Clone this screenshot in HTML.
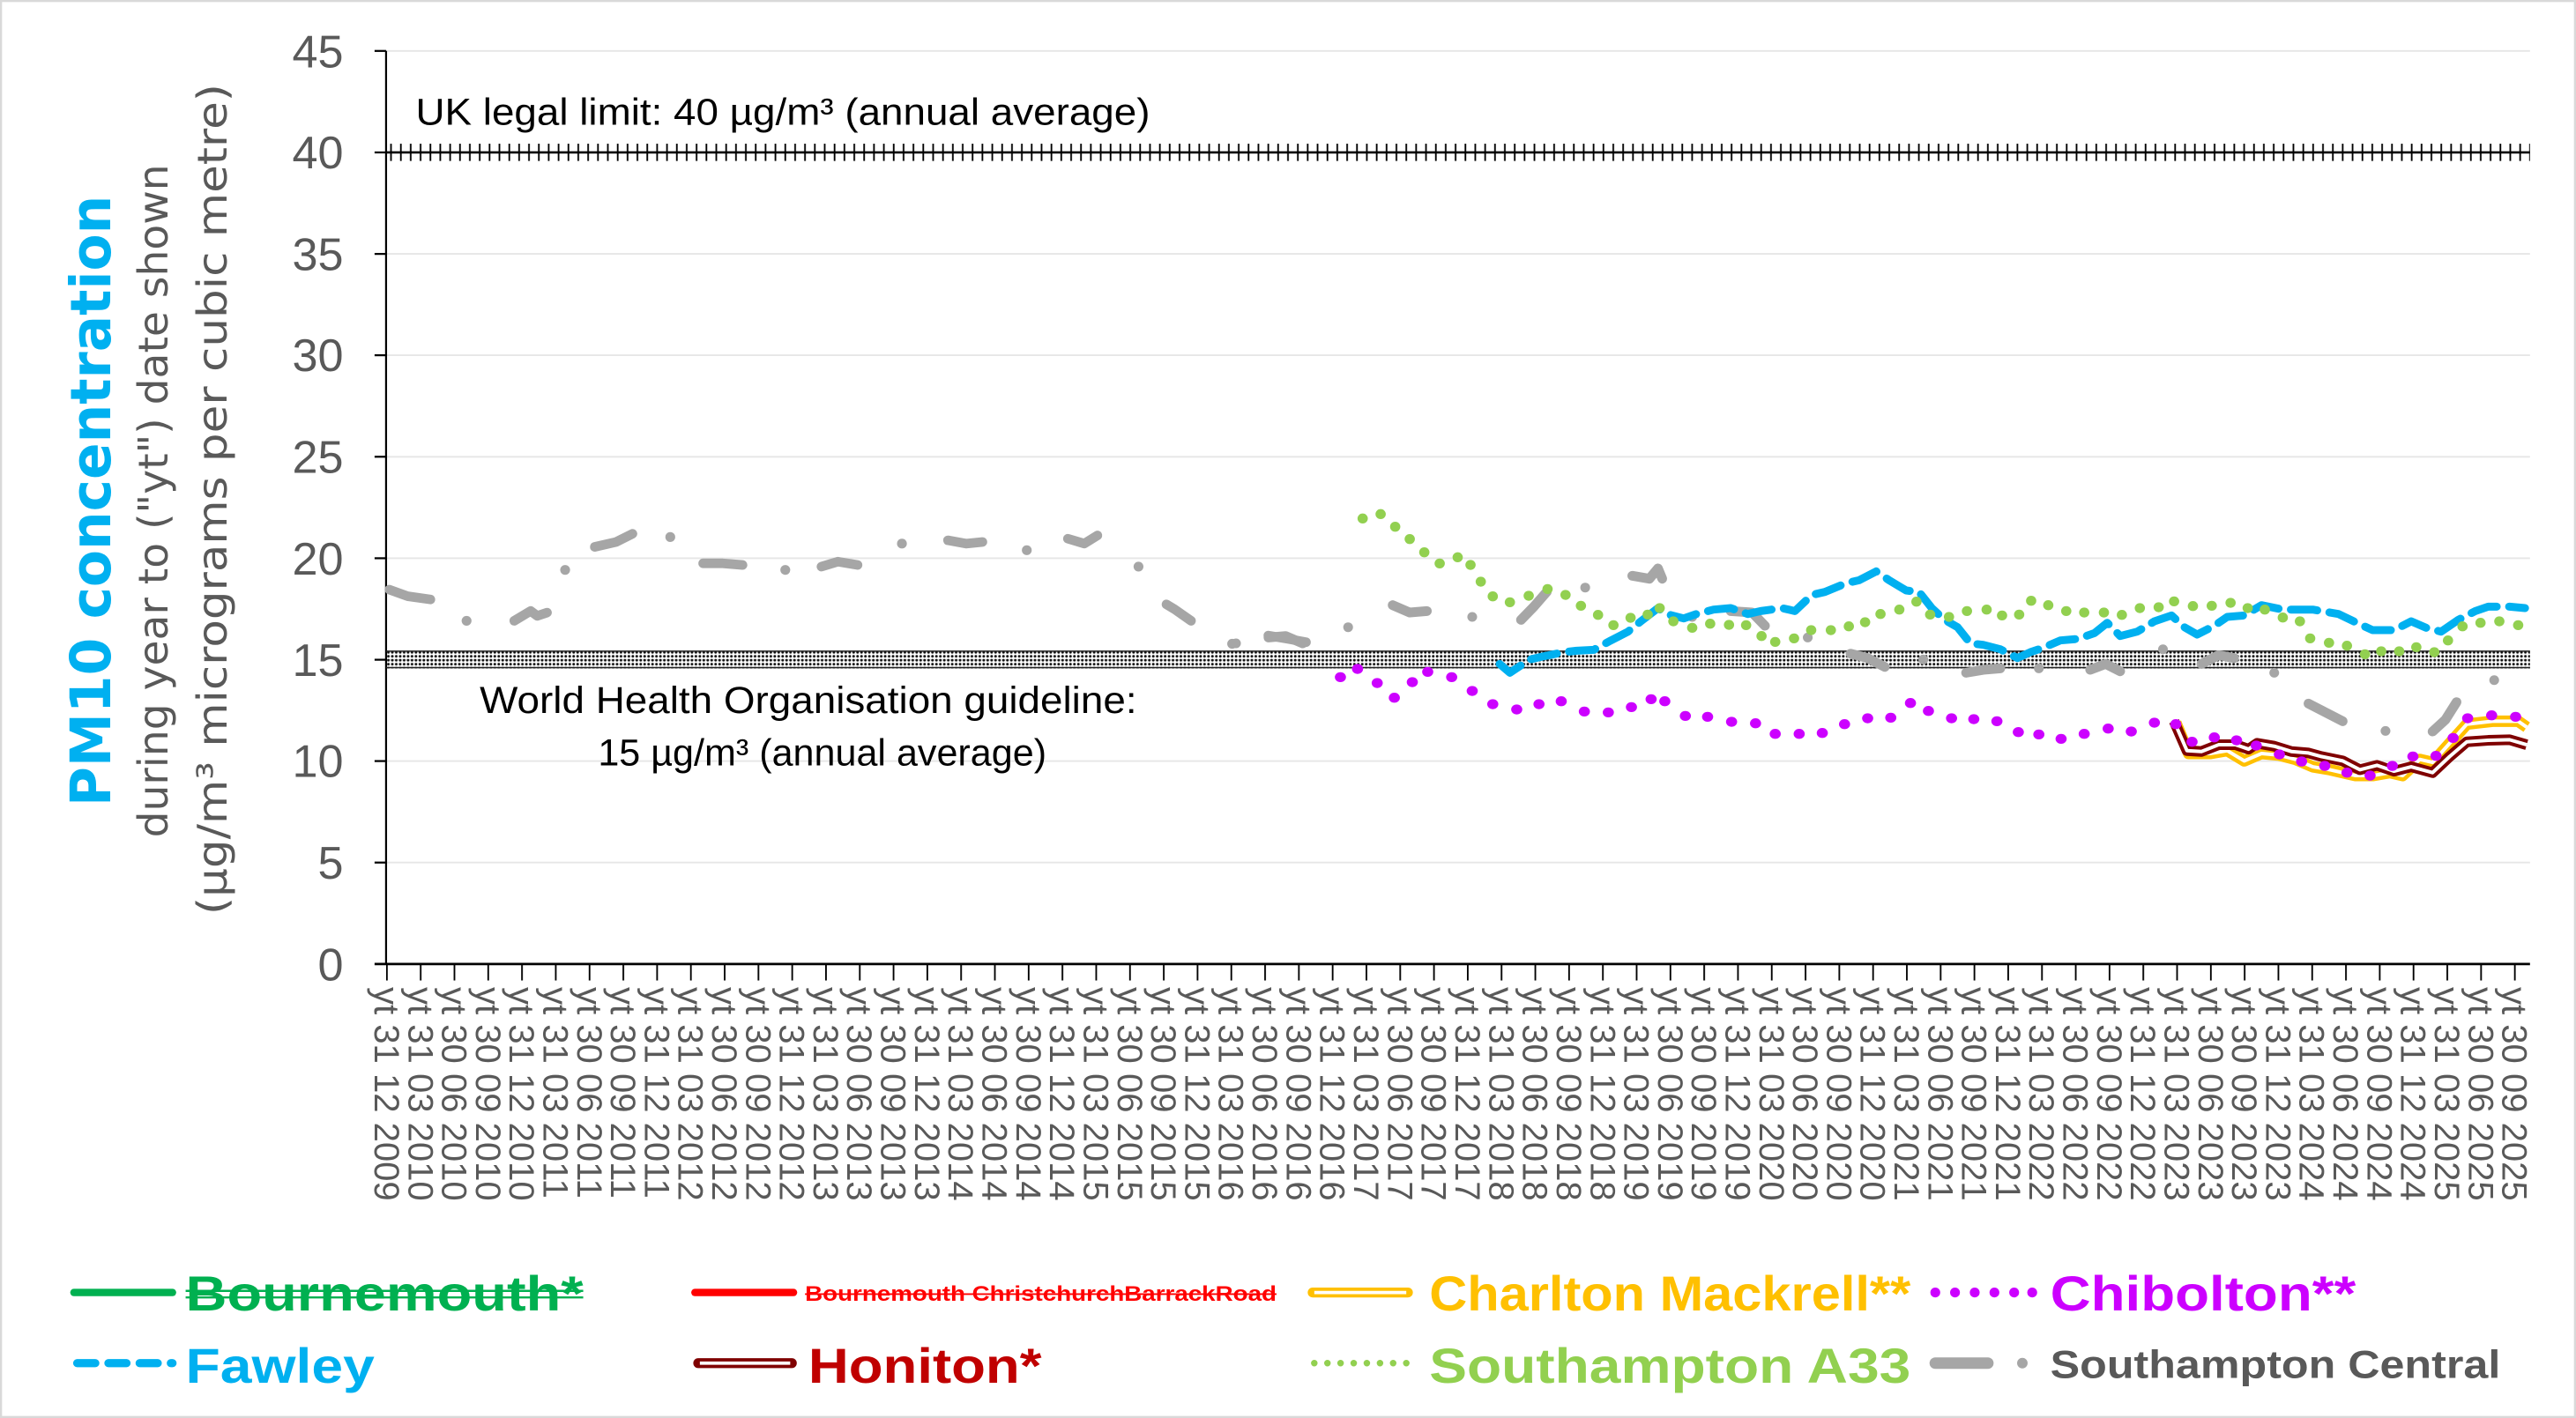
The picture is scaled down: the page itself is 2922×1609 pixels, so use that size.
<!DOCTYPE html>
<html><head><meta charset="utf-8"><style>html,body{margin:0;padding:0;background:#fff}svg{display:block}</style></head>
<body>
<svg xmlns="http://www.w3.org/2000/svg" width="2922" height="1609" viewBox="0 0 1568 863.4">
<defs>
<pattern id="tk40" x="235" y="87" width="6" height="11" patternUnits="userSpaceOnUse"><line x1="3" y1="0" x2="3" y2="11" stroke="#000" stroke-width="1"/></pattern>
<pattern id="dots15" x="0" y="0" width="2.4" height="2.4" patternUnits="userSpaceOnUse"><circle cx="1.2" cy="1.2" r="0.8" fill="#111"/></pattern>
<pattern id="xt" x="235" y="587" width="20.56" height="10" patternUnits="userSpaceOnUse"><line x1="0.5" y1="0" x2="0.5" y2="10" stroke="#000" stroke-width="1"/></pattern>
</defs>
<rect x="0.5" y="0.5" width="1567" height="862.4" fill="#fff" stroke="#D9D9D9" stroke-width="1.5"/>
<g stroke="#E6E6E6" stroke-width="1">
<line x1="235" y1="31" x2="1540" y2="31"/><line x1="235" y1="92.8" x2="1540" y2="92.8"/><line x1="235" y1="154.6" x2="1540" y2="154.6"/><line x1="235" y1="216.3" x2="1540" y2="216.3"/><line x1="235" y1="278.1" x2="1540" y2="278.1"/><line x1="235" y1="339.9" x2="1540" y2="339.9"/><line x1="235" y1="401.7" x2="1540" y2="401.7"/><line x1="235" y1="463.4" x2="1540" y2="463.4"/><line x1="235" y1="525.2" x2="1540" y2="525.2"/>
</g>
<line x1="235" y1="31" x2="235" y2="587" stroke="#000" stroke-width="1.2"/>
<g stroke="#000" stroke-width="1.2"><line x1="228" y1="31" x2="235" y2="31"/><line x1="228" y1="92.8" x2="235" y2="92.8"/><line x1="228" y1="154.6" x2="235" y2="154.6"/><line x1="228" y1="216.3" x2="235" y2="216.3"/><line x1="228" y1="278.1" x2="235" y2="278.1"/><line x1="228" y1="339.9" x2="235" y2="339.9"/><line x1="228" y1="401.7" x2="235" y2="401.7"/><line x1="228" y1="463.4" x2="235" y2="463.4"/><line x1="228" y1="525.2" x2="235" y2="525.2"/></g>
<line x1="228" y1="587" x2="1540" y2="587" stroke="#000" stroke-width="1.5"/>
<rect x="235" y="587" width="1306" height="10" fill="url(#xt)"/>
<g font-family="Liberation Sans, sans-serif" font-size="28" fill="#595959" text-anchor="end">
<text x="209" y="41">45</text><text x="209" y="102.5">40</text><text x="209" y="164.5">35</text><text x="209" y="226">30</text><text x="209" y="288">25</text><text x="209" y="350">20</text><text x="209" y="411.5">15</text><text x="209" y="473">10</text><text x="209" y="535">5</text><text x="209" y="597">0</text>
</g>
<text transform="translate(67,305) rotate(-90)" font-family="DejaVu Sans, sans-serif" font-weight="bold" font-size="34" fill="#00B0F0" text-anchor="middle" textLength="372" lengthAdjust="spacingAndGlyphs">PM10 concentration</text>
<text transform="translate(102,305) rotate(-90)" font-family="DejaVu Sans, sans-serif" font-size="25" fill="#595959" text-anchor="middle" textLength="410" lengthAdjust="spacingAndGlyphs">during year to ("yt") date shown</text>
<text transform="translate(138,304) rotate(-90)" font-family="DejaVu Sans, sans-serif" font-size="25" fill="#595959" text-anchor="middle" textLength="506" lengthAdjust="spacingAndGlyphs">(µg/m³ micrograms per cubic metre)</text>
<rect x="235" y="87.5" width="1305" height="10.5" fill="url(#tk40)"/>
<line x1="235" y1="92.8" x2="1540" y2="92.8" stroke="#000" stroke-width="1.4"/>
<rect x="235" y="396" width="1305" height="11" fill="url(#dots15)"/>
<line x1="235" y1="396.5" x2="1540" y2="396.5" stroke="#222" stroke-width="0.8"/>
<line x1="235" y1="406.5" x2="1540" y2="406.5" stroke="#222" stroke-width="0.8"/>
<g font-family="Liberation Sans, sans-serif" font-size="23" fill="#000">
<text x="253" y="76" textLength="447" lengthAdjust="spacingAndGlyphs">UK legal limit: 40 µg/m³ (annual average)</text>
<text x="292" y="434" textLength="400" lengthAdjust="spacingAndGlyphs">World Health Organisation guideline:</text>
<text x="364" y="466" textLength="273" lengthAdjust="spacingAndGlyphs">15 µg/m³ (annual average)</text>
</g>
<g stroke="#A6A6A6" stroke-width="5.8" stroke-linecap="round" stroke-linejoin="round" fill="none">
<polyline points="237,359 248,363 262,365"/>
<polyline points="313,378 323,372 327,375 333,373"/>
<polyline points="362,333 375,330 385,325"/>
<polyline points="428,343 440,343 452,344"/>
<polyline points="500,345 510,342 516,343 522,344"/>
<polyline points="577,329 588,331 598,330"/>
<polyline points="650,328 660,331 668,326"/>
<polyline points="710,368 715,371 725,378"/>
<polyline points="772,387 784,389 795,391"/>
</g>
<g fill="#A6A6A6"><circle cx="284" cy="378" r="3"/><circle cx="344" cy="347" r="3"/><circle cx="408" cy="327" r="3"/><circle cx="478" cy="347" r="3"/><circle cx="549" cy="331" r="3"/><circle cx="625" cy="335" r="3"/><circle cx="693" cy="345" r="3"/><circle cx="750" cy="392" r="3"/></g>
<g transform="matrix(0.521 0 0 0.1789 751.3 268.3)">
<g stroke="#A6A6A6" stroke-width="11" stroke-linecap="round" stroke-linejoin="round" fill="none">
<polyline vector-effect="non-scaling-stroke" points="40,670 60,665 80,690"/>
<polyline vector-effect="non-scaling-stroke" points="185,560 205,585 225,580"/>
<polyline vector-effect="non-scaling-stroke" points="335,610 350,565 365,515"/>
<polyline vector-effect="non-scaling-stroke" points="465,460 485,470 495,435 500,470"/>
<polyline vector-effect="non-scaling-stroke" points="580,580 605,585 620,630"/>
<polyline vector-effect="non-scaling-stroke" points="720,725 740,740 760,770"/>
<polyline vector-effect="non-scaling-stroke" points="855,790 875,780 895,775"/>
<polyline vector-effect="non-scaling-stroke" points="1000,780 1018,760 1035,785"/>
<polyline vector-effect="non-scaling-stroke" points="1130,760 1150,730 1168,740"/>
<polyline vector-effect="non-scaling-stroke" points="1255,895 1275,925 1295,955"/>
<polyline vector-effect="non-scaling-stroke" points="1400,990 1415,950 1428,890"/>
</g>
<g fill="#A6A6A6"><ellipse cx="2" cy="690" rx="5.7" ry="16.5"/><ellipse cx="133" cy="635" rx="5.7" ry="16.5"/><ellipse cx="278" cy="600" rx="5.7" ry="16.5"/><ellipse cx="410" cy="500" rx="5.7" ry="16.5"/><ellipse cx="535" cy="600" rx="5.7" ry="16.5"/><ellipse cx="670" cy="670" rx="5.7" ry="16.5"/><ellipse cx="805" cy="745" rx="5.7" ry="16.5"/><ellipse cx="940" cy="775" rx="5.7" ry="16.5"/><ellipse cx="1085" cy="710" rx="5.7" ry="16.5"/><ellipse cx="1215" cy="790" rx="5.7" ry="16.5"/><ellipse cx="1345" cy="988" rx="5.7" ry="16.5"/><ellipse cx="1472" cy="815" rx="5.7" ry="16.5"/></g>
<polyline vector-effect="non-scaling-stroke" fill="none" stroke="#00B0F0" stroke-width="9" stroke-dasharray="30 14" stroke-linecap="round" stroke-linejoin="round" points="310,760 322,790 345,745 360,735 385,720 400,715 420,712 440,680 460,650 475,615 495,570 505,590 525,605 540,590 560,575 580,570 600,590 615,580 640,570 655,580 675,525 690,515 715,485 730,475 750,445 765,475 785,510 800,515 815,570 830,610 845,635 860,690 875,695 895,710 915,740 930,720 945,705 965,680 985,675 1005,655 1020,620 1035,665 1055,650 1075,615 1095,595 1110,635 1125,660 1145,630 1160,600 1180,595 1200,560 1225,575 1260,575 1290,590 1315,625 1330,645 1355,645 1375,615 1395,640 1410,650 1430,610 1450,580 1465,565 1490,565 1508,570"/>
<g fill="#92D050">
<ellipse cx="150" cy="265" rx="6" ry="17"/><ellipse cx="171" cy="250" rx="6" ry="17"/><ellipse cx="188" cy="293" rx="6" ry="17"/><ellipse cx="205" cy="335" rx="6" ry="17"/><ellipse cx="222" cy="380" rx="6" ry="17"/><ellipse cx="240" cy="418" rx="6" ry="17"/><ellipse cx="261" cy="397" rx="6" ry="17"/><ellipse cx="276" cy="423" rx="6" ry="17"/><ellipse cx="288" cy="480" rx="6" ry="17"/><ellipse cx="302" cy="530" rx="6" ry="17"/><ellipse cx="322" cy="550" rx="6" ry="17"/><ellipse cx="344" cy="528" rx="6" ry="17"/><ellipse cx="366" cy="505" rx="6" ry="17"/><ellipse cx="387" cy="525" rx="6" ry="17"/><ellipse cx="405" cy="562" rx="6" ry="17"/><ellipse cx="425" cy="593" rx="6" ry="17"/><ellipse cx="443" cy="628" rx="6" ry="17"/><ellipse cx="463" cy="603" rx="6" ry="17"/><ellipse cx="483" cy="592" rx="6" ry="17"/><ellipse cx="497" cy="570" rx="6" ry="17"/><ellipse cx="513" cy="615" rx="6" ry="17"/><ellipse cx="535" cy="637" rx="6" ry="17"/><ellipse cx="556" cy="623" rx="6" ry="17"/><ellipse cx="578" cy="627" rx="6" ry="17"/><ellipse cx="598" cy="628" rx="6" ry="17"/><ellipse cx="616" cy="665" rx="6" ry="17"/><ellipse cx="632" cy="685" rx="6" ry="17"/><ellipse cx="654" cy="673" rx="6" ry="17"/><ellipse cx="674" cy="645" rx="6" ry="17"/><ellipse cx="697" cy="645" rx="6" ry="17"/><ellipse cx="718" cy="632" rx="6" ry="17"/><ellipse cx="737" cy="618" rx="6" ry="17"/><ellipse cx="755" cy="590" rx="6" ry="17"/><ellipse cx="777" cy="575" rx="6" ry="17"/><ellipse cx="797" cy="548" rx="6" ry="17"/><ellipse cx="813" cy="592" rx="6" ry="17"/><ellipse cx="835" cy="600" rx="6" ry="17"/><ellipse cx="856" cy="580" rx="6" ry="17"/><ellipse cx="879" cy="575" rx="6" ry="17"/><ellipse cx="897" cy="595" rx="6" ry="17"/><ellipse cx="917" cy="592" rx="6" ry="17"/><ellipse cx="931" cy="545" rx="6" ry="17"/><ellipse cx="951" cy="560" rx="6" ry="17"/><ellipse cx="972" cy="580" rx="6" ry="17"/><ellipse cx="993" cy="585" rx="6" ry="17"/><ellipse cx="1016" cy="585" rx="6" ry="17"/><ellipse cx="1037" cy="593" rx="6" ry="17"/><ellipse cx="1058" cy="570" rx="6" ry="17"/><ellipse cx="1080" cy="567" rx="6" ry="17"/><ellipse cx="1098" cy="547" rx="6" ry="17"/><ellipse cx="1120" cy="563" rx="6" ry="17"/><ellipse cx="1142" cy="562" rx="6" ry="17"/><ellipse cx="1164" cy="552" rx="6" ry="17"/><ellipse cx="1184" cy="570" rx="6" ry="17"/><ellipse cx="1204" cy="575" rx="6" ry="17"/><ellipse cx="1225" cy="602" rx="6" ry="17"/><ellipse cx="1245" cy="615" rx="6" ry="17"/><ellipse cx="1257" cy="673" rx="6" ry="17"/><ellipse cx="1279" cy="688" rx="6" ry="17"/><ellipse cx="1300" cy="698" rx="6" ry="17"/><ellipse cx="1321" cy="727" rx="6" ry="17"/><ellipse cx="1340" cy="717" rx="6" ry="17"/><ellipse cx="1361" cy="717" rx="6" ry="17"/><ellipse cx="1381" cy="703" rx="6" ry="17"/><ellipse cx="1402" cy="720" rx="6" ry="17"/><ellipse cx="1418" cy="680" rx="6" ry="17"/><ellipse cx="1435" cy="632" rx="6" ry="17"/><ellipse cx="1456" cy="620" rx="6" ry="17"/><ellipse cx="1478" cy="615" rx="6" ry="17"/><ellipse cx="1500" cy="628" rx="6" ry="17"/>
</g>
<polyline vector-effect="non-scaling-stroke" fill="none" stroke="#FFC000" stroke-width="13" stroke-linejoin="round" points="1100,960 1115,1065 1140,1065 1160,1055 1180,1090 1200,1065 1220,1070 1240,1085 1260,1110 1280,1120 1310,1140 1330,1140 1350,1130 1365,1140 1385,1085 1400,1095 1420,1030 1440,965 1470,955 1500,955 1510,975"/>
<polyline vector-effect="non-scaling-stroke" fill="none" stroke="#fff" stroke-width="4" stroke-linejoin="round" points="1100,960 1115,1065 1140,1065 1160,1055 1180,1090 1200,1065 1220,1070 1240,1085 1260,1110 1280,1120 1310,1140 1330,1140 1350,1130 1365,1140 1385,1085 1400,1095 1420,1030 1440,965 1470,955 1500,955 1510,975"/>
<polyline vector-effect="non-scaling-stroke" fill="none" stroke="#7F0000" stroke-width="12" stroke-linejoin="round" points="1098,955 1113,1055 1130,1058 1150,1035 1170,1035 1185,1050 1195,1030 1215,1040 1235,1058 1255,1063 1270,1075 1295,1090 1315,1120 1335,1105 1355,1125 1375,1110 1400,1130 1420,1075 1440,1025 1465,1020 1490,1018 1510,1035"/>
<polyline vector-effect="non-scaling-stroke" fill="none" stroke="#fff" stroke-width="4" stroke-linejoin="round" points="1098,955 1113,1055 1130,1058 1150,1035 1170,1035 1185,1050 1195,1030 1215,1040 1235,1058 1255,1063 1270,1075 1295,1090 1315,1120 1335,1105 1355,1125 1375,1110 1400,1130 1420,1075 1440,1025 1465,1020 1490,1018 1510,1035"/>
<g fill="#CC00FF">
<ellipse cx="124" cy="805" rx="6.5" ry="17"/><ellipse cx="144" cy="777" rx="6.5" ry="17"/><ellipse cx="167" cy="825" rx="6.5" ry="17"/><ellipse cx="187" cy="875" rx="6.5" ry="17"/><ellipse cx="208" cy="822" rx="6.5" ry="17"/><ellipse cx="226" cy="787" rx="6.5" ry="17"/><ellipse cx="254" cy="805" rx="6.5" ry="17"/><ellipse cx="278" cy="852" rx="6.5" ry="17"/><ellipse cx="302" cy="897" rx="6.5" ry="17"/><ellipse cx="330" cy="915" rx="6.5" ry="17"/><ellipse cx="356" cy="897" rx="6.5" ry="17"/><ellipse cx="382" cy="887" rx="6.5" ry="17"/><ellipse cx="409" cy="922" rx="6.5" ry="17"/><ellipse cx="437" cy="925" rx="6.5" ry="17"/><ellipse cx="464" cy="907" rx="6.5" ry="17"/><ellipse cx="487" cy="880" rx="6.5" ry="17"/><ellipse cx="503" cy="887" rx="6.5" ry="17"/><ellipse cx="527" cy="937" rx="6.5" ry="17"/><ellipse cx="553" cy="940" rx="6.5" ry="17"/><ellipse cx="581" cy="957" rx="6.5" ry="17"/><ellipse cx="609" cy="962" rx="6.5" ry="17"/><ellipse cx="632" cy="998" rx="6.5" ry="17"/><ellipse cx="660" cy="998" rx="6.5" ry="17"/><ellipse cx="687" cy="995" rx="6.5" ry="17"/><ellipse cx="713" cy="965" rx="6.5" ry="17"/><ellipse cx="740" cy="945" rx="6.5" ry="17"/><ellipse cx="767" cy="943" rx="6.5" ry="17"/><ellipse cx="790" cy="893" rx="6.5" ry="17"/><ellipse cx="811" cy="920" rx="6.5" ry="17"/><ellipse cx="838" cy="945" rx="6.5" ry="17"/><ellipse cx="864" cy="948" rx="6.5" ry="17"/><ellipse cx="891" cy="955" rx="6.5" ry="17"/><ellipse cx="916" cy="992" rx="6.5" ry="17"/><ellipse cx="940" cy="1000" rx="6.5" ry="17"/><ellipse cx="966" cy="1015" rx="6.5" ry="17"/><ellipse cx="993" cy="998" rx="6.5" ry="17"/><ellipse cx="1021" cy="980" rx="6.5" ry="17"/><ellipse cx="1048" cy="990" rx="6.5" ry="17"/><ellipse cx="1075" cy="960" rx="6.5" ry="17"/><ellipse cx="1100" cy="965" rx="6.5" ry="17"/><ellipse cx="1119" cy="1025" rx="6.5" ry="17"/><ellipse cx="1145" cy="1010" rx="6.5" ry="17"/><ellipse cx="1171" cy="1020" rx="6.5" ry="17"/><ellipse cx="1194" cy="1038" rx="6.5" ry="17"/><ellipse cx="1221" cy="1068" rx="6.5" ry="17"/><ellipse cx="1247" cy="1092" rx="6.5" ry="17"/><ellipse cx="1274" cy="1107" rx="6.5" ry="17"/><ellipse cx="1300" cy="1130" rx="6.5" ry="17"/><ellipse cx="1327" cy="1140" rx="6.5" ry="17"/><ellipse cx="1353" cy="1107" rx="6.5" ry="17"/><ellipse cx="1377" cy="1075" rx="6.5" ry="17"/><ellipse cx="1404" cy="1073" rx="6.5" ry="17"/><ellipse cx="1424" cy="1012" rx="6.5" ry="17"/><ellipse cx="1441" cy="945" rx="6.5" ry="17"/><ellipse cx="1469" cy="935" rx="6.5" ry="17"/><ellipse cx="1497" cy="940" rx="6.5" ry="17"/>
</g>
</g>
<g font-family="Liberation Sans, sans-serif" font-size="21.5" fill="#595959">
<text transform="translate(228.0,601) rotate(90)">yt 31 12 2009</text>
<text transform="translate(248.6,601) rotate(90)">yt 31 03 2010</text>
<text transform="translate(269.1,601) rotate(90)">yt 30 06 2010</text>
<text transform="translate(289.7,601) rotate(90)">yt 30 09 2010</text>
<text transform="translate(310.2,601) rotate(90)">yt 31 12 2010</text>
<text transform="translate(330.8,601) rotate(90)">yt 31 03 2011</text>
<text transform="translate(351.4,601) rotate(90)">yt 30 06 2011</text>
<text transform="translate(371.9,601) rotate(90)">yt 30 09 2011</text>
<text transform="translate(392.5,601) rotate(90)">yt 31 12 2011</text>
<text transform="translate(413.0,601) rotate(90)">yt 31 03 2012</text>
<text transform="translate(433.6,601) rotate(90)">yt 30 06 2012</text>
<text transform="translate(454.2,601) rotate(90)">yt 30 09 2012</text>
<text transform="translate(474.7,601) rotate(90)">yt 31 12 2012</text>
<text transform="translate(495.3,601) rotate(90)">yt 31 03 2013</text>
<text transform="translate(515.8,601) rotate(90)">yt 30 06 2013</text>
<text transform="translate(536.4,601) rotate(90)">yt 30 09 2013</text>
<text transform="translate(557.0,601) rotate(90)">yt 31 12 2013</text>
<text transform="translate(577.5,601) rotate(90)">yt 31 03 2014</text>
<text transform="translate(598.1,601) rotate(90)">yt 30 06 2014</text>
<text transform="translate(618.6,601) rotate(90)">yt 30 09 2014</text>
<text transform="translate(639.2,601) rotate(90)">yt 31 12 2014</text>
<text transform="translate(659.8,601) rotate(90)">yt 31 03 2015</text>
<text transform="translate(680.3,601) rotate(90)">yt 30 06 2015</text>
<text transform="translate(700.9,601) rotate(90)">yt 30 09 2015</text>
<text transform="translate(721.4,601) rotate(90)">yt 31 12 2015</text>
<text transform="translate(742.0,601) rotate(90)">yt 31 03 2016</text>
<text transform="translate(762.6,601) rotate(90)">yt 30 06 2016</text>
<text transform="translate(783.1,601) rotate(90)">yt 30 09 2016</text>
<text transform="translate(803.7,601) rotate(90)">yt 31 12 2016</text>
<text transform="translate(824.2,601) rotate(90)">yt 31 03 2017</text>
<text transform="translate(844.8,601) rotate(90)">yt 30 06 2017</text>
<text transform="translate(865.4,601) rotate(90)">yt 30 09 2017</text>
<text transform="translate(885.9,601) rotate(90)">yt 31 12 2017</text>
<text transform="translate(906.5,601) rotate(90)">yt 31 03 2018</text>
<text transform="translate(927.0,601) rotate(90)">yt 30 06 2018</text>
<text transform="translate(947.6,601) rotate(90)">yt 30 09 2018</text>
<text transform="translate(968.2,601) rotate(90)">yt 31 12 2018</text>
<text transform="translate(988.7,601) rotate(90)">yt 31 03 2019</text>
<text transform="translate(1009.3,601) rotate(90)">yt 30 06 2019</text>
<text transform="translate(1029.8,601) rotate(90)">yt 30 09 2019</text>
<text transform="translate(1050.4,601) rotate(90)">yt 31 12 2019</text>
<text transform="translate(1071.0,601) rotate(90)">yt 31 03 2020</text>
<text transform="translate(1091.5,601) rotate(90)">yt 30 06 2020</text>
<text transform="translate(1112.1,601) rotate(90)">yt 30 09 2020</text>
<text transform="translate(1132.6,601) rotate(90)">yt 31 12 2020</text>
<text transform="translate(1153.2,601) rotate(90)">yt 31 03 2021</text>
<text transform="translate(1173.8,601) rotate(90)">yt 30 06 2021</text>
<text transform="translate(1194.3,601) rotate(90)">yt 30 09 2021</text>
<text transform="translate(1214.9,601) rotate(90)">yt 31 12 2021</text>
<text transform="translate(1235.4,601) rotate(90)">yt 31 03 2022</text>
<text transform="translate(1256.0,601) rotate(90)">yt 30 06 2022</text>
<text transform="translate(1276.6,601) rotate(90)">yt 30 09 2022</text>
<text transform="translate(1297.1,601) rotate(90)">yt 31 12 2022</text>
<text transform="translate(1317.7,601) rotate(90)">yt 31 03 2023</text>
<text transform="translate(1338.2,601) rotate(90)">yt 30 06 2023</text>
<text transform="translate(1358.8,601) rotate(90)">yt 30 09 2023</text>
<text transform="translate(1379.4,601) rotate(90)">yt 31 12 2023</text>
<text transform="translate(1399.9,601) rotate(90)">yt 31 03 2024</text>
<text transform="translate(1420.5,601) rotate(90)">yt 30 06 2024</text>
<text transform="translate(1441.0,601) rotate(90)">yt 30 09 2024</text>
<text transform="translate(1461.6,601) rotate(90)">yt 31 12 2024</text>
<text transform="translate(1482.2,601) rotate(90)">yt 31 03 2025</text>
<text transform="translate(1502.7,601) rotate(90)">yt 30 06 2025</text>
<text transform="translate(1523.3,601) rotate(90)">yt 30 09 2025</text>
</g>
<g font-family="Liberation Sans, sans-serif" font-weight="bold">
<line x1="45" y1="787" x2="105" y2="787" stroke="#00B050" stroke-width="4.5" stroke-linecap="round"/>
<text x="113" y="798" font-size="30" fill="#00B050" textLength="242" lengthAdjust="spacingAndGlyphs">Bournemouth*</text>
<line x1="113" y1="786" x2="355" y2="786" stroke="#00B050" stroke-width="1.3"/><line x1="113" y1="790" x2="355" y2="790" stroke="#00B050" stroke-width="1.3"/>
<line x1="423" y1="787" x2="483" y2="787" stroke="#FF0000" stroke-width="4.5" stroke-linecap="round"/>
<text x="490" y="792" font-size="13" fill="#FF0000" textLength="287" lengthAdjust="spacingAndGlyphs">Bournemouth ChristchurchBarrackRoad</text>
<line x1="490" y1="788" x2="777" y2="788" stroke="#FF0000" stroke-width="1"/>
<line x1="799" y1="787" x2="857" y2="787" stroke="#FFC000" stroke-width="6" stroke-linecap="round"/>
<line x1="800" y1="787" x2="856" y2="787" stroke="#fff" stroke-width="2"/>
<text x="870" y="798" font-size="30" fill="#FFC000" textLength="293" lengthAdjust="spacingAndGlyphs">Charlton Mackrell**</text>
<g fill="#CC00FF"><circle cx="1178" cy="787" r="3"/><circle cx="1190" cy="787" r="3"/><circle cx="1202" cy="787" r="3"/><circle cx="1214" cy="787" r="3"/><circle cx="1226" cy="787" r="3"/><circle cx="1237" cy="787" r="3"/></g>
<text x="1248" y="798" font-size="30" fill="#CC00FF" textLength="186" lengthAdjust="spacingAndGlyphs">Chibolton**</text>
<line x1="47" y1="830" x2="105" y2="830" stroke="#00B0F0" stroke-width="5" stroke-dasharray="11 8" stroke-linecap="round"/>
<text x="113" y="842" font-size="30" fill="#00B0F0" textLength="115" lengthAdjust="spacingAndGlyphs">Fawley</text>
<line x1="425" y1="830" x2="482" y2="830" stroke="#7F0000" stroke-width="6" stroke-linecap="round"/>
<line x1="426" y1="830" x2="481" y2="830" stroke="#fff" stroke-width="2"/>
<text x="492" y="842" font-size="30" fill="#C00000" textLength="142" lengthAdjust="spacingAndGlyphs">Honiton*</text>
<g fill="#92D050"><circle cx="800" cy="830" r="2"/><circle cx="808" cy="830" r="2"/><circle cx="816" cy="830" r="2"/><circle cx="824" cy="830" r="2"/><circle cx="832" cy="830" r="2"/><circle cx="840" cy="830" r="2"/><circle cx="848" cy="830" r="2"/><circle cx="856" cy="830" r="2"/></g>
<text x="870" y="842" font-size="30" fill="#92D050" textLength="293" lengthAdjust="spacingAndGlyphs">Southampton A33</text>
<line x1="1178" y1="830" x2="1210" y2="830" stroke="#A6A6A6" stroke-width="7" stroke-linecap="round"/>
<circle cx="1231" cy="830" r="3.2" fill="#A6A6A6"/>
<text x="1248" y="839" font-size="24" fill="#595959" textLength="274" lengthAdjust="spacingAndGlyphs">Southampton Central</text>
</g>
</svg>
</body></html>
